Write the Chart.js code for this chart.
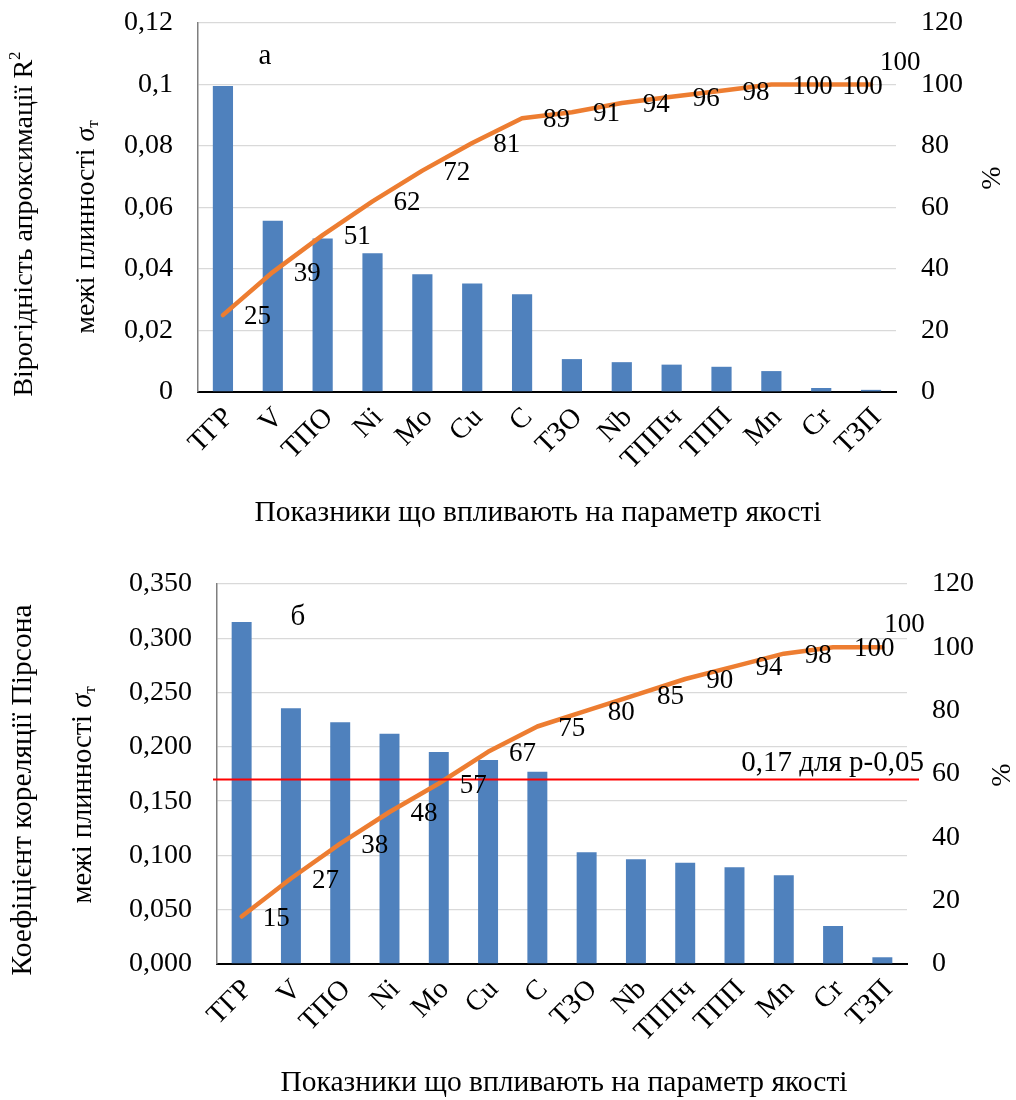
<!DOCTYPE html>
<html>
<head>
<meta charset="utf-8">
<script src="https://cdn.jsdelivr.net/npm/chart.js@4.4.1/dist/chart.umd.min.js"></script>
<style>
  html, body { margin: 0; padding: 0; background: #ffffff; }
  #wrap { position: relative; width: 1016px; height: 1100px; }
  .box { position: absolute; left: 0; width: 1016px; height: 550px; }
</style>
</head>
<body>
<div id="wrap">
  <div class="box" style="top:0"><canvas id="chartA" width="1016" height="550"></canvas></div>
  <div class="box" style="top:550px"><canvas id="chartB" width="1016" height="550"></canvas></div>
</div>
<script>
// Factors, in descending order of influence
const categories = ['ТГР', 'V', 'ТПО', 'Ni', 'Mo', 'Cu', 'C', 'ТЗО', 'Nb', 'ТППч', 'ТПП', 'Mn', 'Cr', 'ТЗП'];

// (а) coefficient of determination R² and its cumulative share, %
const r2Values = [0.0995, 0.0557, 0.0499, 0.0451, 0.0383, 0.0353, 0.0318, 0.0107, 0.0097, 0.0089, 0.0082, 0.0068, 0.0013, 0.0007];
const r2Cumulative = [25, 39, 51, 62, 72, 81, 89, 91, 94, 96, 98, 100, 100, 100];
const r2TickLabels = ['0', '0,02', '0,04', '0,06', '0,08', '0,1', '0,12'];

// (б) Pearson correlation coefficient and its cumulative share, %
const pearsonValues = [0.315, 0.2355, 0.2226, 0.2121, 0.1953, 0.1879, 0.1771, 0.1029, 0.0964, 0.0933, 0.0891, 0.0817, 0.035, 0.0062];
const pearsonCumulative = [15, 27, 38, 48, 57, 67, 75, 80, 85, 90, 94, 98, 100, 100];
const pearsonTickLabels = ['0,000', '0,050', '0,100', '0,150', '0,200', '0,250', '0,300', '0,350'];
const pearsonThreshold = 0.17;
const pearsonThresholdLabel = '0,17 для p-0,05';

const percentTickLabels = ['0', '20', '40', '60', '80', '100', '120'];

const xTitle = 'Показники що впливають на параметр якості';
const yTitleR2 = 'Вірогідність апроксимації R';
const yTitlePearson = 'Коефіцієнт кореляції Пірсона';
const yTitleSecond = 'межі плинності ';
const percentTitle = '%';

const FONT = '"Liberation Serif", "Times New Roman", serif';
const BAR_COLOR = '#4f81bd';
const LINE_COLOR = '#ed7d31';

Chart.defaults.font.family = FONT;
Chart.defaults.color = '#000000';

// Writes a run of differently styled pieces of text centred on (x, y), optionally rotated
function drawRich(ctx, parts, x, y, rot) {
  ctx.save();
  ctx.translate(x, y);
  ctx.rotate(rot || 0);
  let total = 0;
  parts.forEach(p => { ctx.font = p.font; p.w = ctx.measureText(p.t).width; total += p.w; });
  let cx = -total / 2;
  ctx.textAlign = 'left';
  ctx.textBaseline = 'middle';
  ctx.fillStyle = '#000';
  parts.forEach(p => { ctx.font = p.font; ctx.fillText(p.t, cx, p.dy || 0); cx += p.w; });
  ctx.restore();
}

// Threshold line and the cumulative percentage labels beside each point of the line
const cumulativeLabels = {
  id: 'cumulativeLabels',
  afterDatasetsDraw(chart, args, opts) {
    const ctx = chart.ctx;
    const ds = chart.data.datasets[1];
    const meta = chart.getDatasetMeta(1);

    if (opts.threshold !== undefined) {
      const y = chart.scales.y.getPixelForValue(opts.threshold);
      const area = chart.chartArea;
      ctx.save();
      ctx.strokeStyle = '#ff0000';
      ctx.lineWidth = 2;
      ctx.beginPath();
      ctx.moveTo(area.left - 4, y);
      ctx.lineTo(area.right + 12, y);
      ctx.stroke();
      ctx.font = '29px ' + FONT;
      ctx.fillStyle = '#000';
      ctx.textAlign = 'right';
      ctx.textBaseline = 'alphabetic';
      ctx.fillText(opts.thresholdLabel, area.right + 17, y - 8);
      ctx.restore();
    }

    ctx.save();
    ctx.font = '27px ' + FONT;
    ctx.fillStyle = '#000';
    ctx.textAlign = 'left';
    ctx.textBaseline = 'middle';
    meta.data.forEach((pt, i) => {
      const last = i === ds.data.length - 1;
      const x = pt.x + (last ? opts.lastDx : 21);
      const y = pt.y + (last ? -22 : 2);
      ctx.fillText(String(ds.data[i]), x, y);
    });
    ctx.restore();
  }
};

// Axis titles and the panel letter
const panelTitles = {
  id: 'panelTitles',
  afterDraw(chart, args, o) {
    const ctx = chart.ctx;
    const f = o.titleSize + 'px ' + FONT;
    const small = '17px ' + FONT;
    drawRich(ctx, o.yTitle1, o.y1x, o.y1y, -Math.PI / 2);
    drawRich(ctx, [
      { t: yTitleSecond, font: f },
      { t: 'σ', font: 'italic ' + f },
      { t: 'т', font: small, dy: 7 }
    ], o.y2x, o.y2y, -Math.PI / 2);
    drawRich(ctx, [{ t: xTitle, font: '29.5px ' + FONT }], o.xtx, o.xty, 0);
    drawRich(ctx, [{ t: percentTitle, font: '28px ' + FONT }], o.px, o.py, -Math.PI / 2);
    drawRich(ctx, [{ t: o.letter, font: '29px ' + FONT }], o.lx, o.ly, 0);
  }
};

function buildChart(canvasId, p) {
  return new Chart(document.getElementById(canvasId), {
    data: {
      labels: categories,
      datasets: [
        {
          type: 'bar',
          data: p.values,
          backgroundColor: BAR_COLOR,
          borderWidth: 0,
          categoryPercentage: 1,
          barPercentage: 0.405,
          yAxisID: 'y',
          order: 2
        },
        {
          type: 'line',
          data: p.cumulative,
          borderColor: LINE_COLOR,
          borderWidth: 4.5,
          borderCapStyle: 'round',
          borderJoinStyle: 'round',
          pointRadius: 0,
          tension: 0,
          fill: false,
          clip: false,
          yAxisID: 'y1',
          order: 1
        }
      ]
    },
    options: {
      responsive: false,
      animation: false,
      events: [],
      layout: { padding: { left: 0, right: 0, top: p.top, bottom: 0 } },
      plugins: {
        legend: { display: false },
        tooltip: { enabled: false },
        cumulativeLabels: p.labelOpts,
        panelTitles: p.titles
      },
      scales: {
        x: {
          grid: { display: false, drawTicks: false },
          border: { display: true, color: '#000000', width: 2 },
          ticks: {
            autoSkip: false,
            minRotation: 45,
            maxRotation: 45,
            padding: 9,
            labelOffset: 6,
            font: { size: 28.5, family: FONT },
            color: '#000'
          },
          afterFit(s) { s.height = p.xHeight; s.paddingLeft = 0; s.paddingRight = 0; }
        },
        y: {
          position: 'left',
          min: 0,
          max: p.yMax,
          ticks: {
            stepSize: p.yStep,
            padding: 25,
            font: { size: 28, family: FONT },
            color: '#000',
            callback: (v, i) => p.tickLabels[i]
          },
          grid: { color: '#d9d9d9', lineWidth: 1.3, drawTicks: false },
          border: { display: true, color: '#7f7f7f', width: 1.5 },
          afterFit(s) { s.width = p.leftW; s.paddingTop = 0; s.paddingBottom = 0; }
        },
        y1: {
          position: 'right',
          min: 0,
          max: 120,
          ticks: {
            stepSize: 20,
            padding: 25,
            font: { size: 28, family: FONT },
            color: '#000',
            callback: (v, i) => percentTickLabels[i]
          },
          grid: { display: false, drawTicks: false },
          border: { display: false },
          afterFit(s) { s.width = p.rightW; s.paddingTop = 0; s.paddingBottom = 0; }
        }
      }
    },
    plugins: [cumulativeLabels, panelTitles]
  });
}

buildChart('chartA', {
  values: r2Values,
  cumulative: r2Cumulative,
  tickLabels: r2TickLabels,
  yMax: 0.12,
  yStep: 0.02,
  top: 23,
  leftW: 198,
  rightW: 120,
  xHeight: 158,
  labelOpts: { lastDx: 9 },
  titles: {
    titleSize: 28,
    yTitle1: [
      { t: yTitleR2, font: '28px ' + FONT },
      { t: '2', font: '17px ' + FONT, dy: -9 }
    ],
    y1x: 25, y1y: 224,
    y2x: 87, y2y: 227,
    xtx: 538, xty: 513,
    px: 993, py: 178,
    letter: 'а', lx: 265, ly: 56
  }
});

buildChart('chartB', {
  values: pearsonValues,
  cumulative: pearsonCumulative,
  tickLabels: pearsonTickLabels,
  yMax: 0.35,
  yStep: 0.05,
  top: 34,
  leftW: 217,
  rightW: 109,
  xHeight: 136,
  labelOpts: { lastDx: 2, threshold: pearsonThreshold, thresholdLabel: pearsonThresholdLabel },
  titles: {
    titleSize: 28.5,
    yTitle1: [{ t: yTitlePearson, font: '29.5px ' + FONT }],
    y1x: 23, y1y: 240,
    y2x: 84, y2y: 245,
    xtx: 564, xty: 533,
    px: 1003, py: 225,
    letter: 'б', lx: 298, ly: 67
  }
});
</script>
</body>
</html>
